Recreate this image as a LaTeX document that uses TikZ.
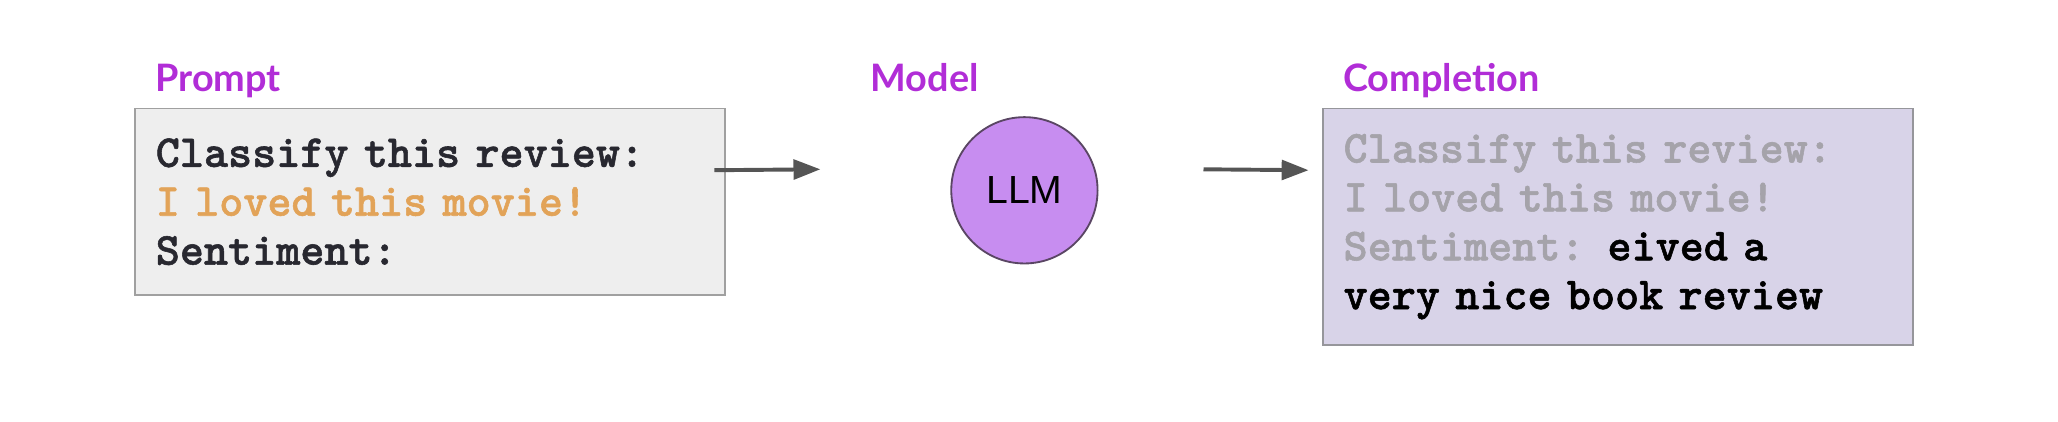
\documentclass[tikz,border=0pt]{standalone}
\usepackage{fontspec}
\usepackage{tikz}
\usetikzlibrary{arrows.meta,calc}

\newfontfamily\labelfont{Lato}
\newfontfamily\llmfont{Liberation Sans}
\newfontfamily\codefont{lmmonolt10-bold.otf}[FakeBold=1.2]

\definecolor{labelpurple}{RGB}{177,45,215}
\definecolor{promptfill}{RGB}{238,238,238}
\definecolor{promptline}{RGB}{160,160,160}
\definecolor{complfill}{RGB}{216,211,232}
\definecolor{complline}{RGB}{150,150,155}
\definecolor{llmfill}{RGB}{199,141,240}
\definecolor{llmline}{RGB}{90,70,100}
\definecolor{codedark}{RGB}{40,40,48}
\definecolor{codeorange}{RGB}{226,163,88}
\definecolor{codefade}{RGB}{165,163,170}
\definecolor{arrowgray}{RGB}{85,85,85}

\def\codesize{\fontsize{19.9}{21.2}\selectfont}

\tikzset{
	boxlabel/.style={anchor=base west, inner sep=0pt, text=labelpurple, font=\labelfont\bfseries\fontsize{16.4}{18}\selectfont},
	codebox/.style={draw, line width=0.8pt, anchor=north west, align=left, inner xsep=0.32cm, inner ysep=0pt, text width=8.36cm, font=\codefont\codesize},
	flowarrow/.style={draw=arrowgray, line width=1.7pt, -{Triangle[length=0.41cm, width=0.3cm]}},
}

\begin{document}
\begin{tikzpicture}[x=0.02cm, y=-0.02cm]
			%%%%% START %%%%%
			
			\useasboundingbox (0, 0) rectangle (1568, 321.5);
			
			\node[codebox, draw=promptline, fill=promptfill, text=codedark, minimum height=2.84cm] (prompt) at (102, 82) {Classify this review:\\ \textcolor{codeorange}{I loved this movie!}\\ Sentiment:};
			\node[boxlabel] (promptlabel) at (118, 70) {Prompt};
			
			\node[circle, draw=llmline, line width=0.8pt, fill=llmfill, minimum size=2.23cm, inner sep=0pt, font=\llmfont\fontsize{17}{19}\selectfont, text=black] (llm) at (780.5, 145) {LLM};
			\node[boxlabel] (modellabel) at (663, 70) {Model};
			
			\node[codebox, draw=complline, fill=complfill, text=black, minimum height=3.6cm] (completion) at (1007, 82) {\textcolor{codefade}{Classify this review:}\\ \textcolor{codefade}{I loved this movie!}\\ \textcolor{codefade}{Sentiment:} eived a\\ very nice book review};
			\node[boxlabel] (completionlabel) at (1023, 70) {Completion};
			
			\draw[flowarrow] ($(prompt.east)+(-9, -24)$) -- ($(llm.west)+(-99, -16)$);
			\draw[flowarrow] ($(llm.east)+(80, -16)$) -- ($(completion.west)+(-10, -43)$);
			
			%%%%% END %%%%%
\end{tikzpicture}
\end{document}
